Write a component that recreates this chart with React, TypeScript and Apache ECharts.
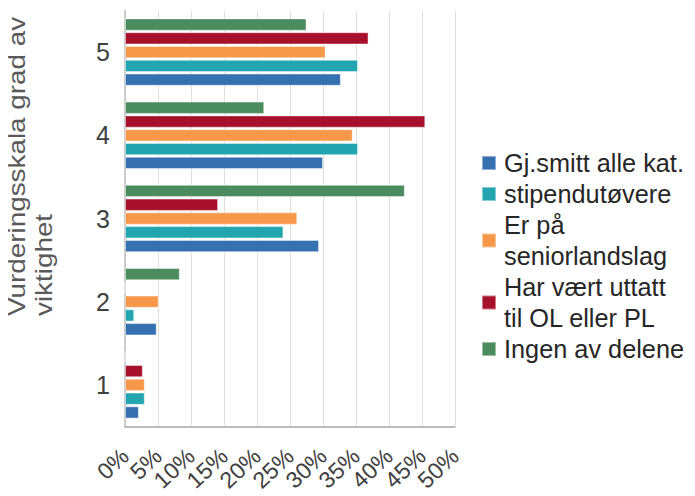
import React, { useEffect, useRef } from "react";
import * as echarts from "echarts";

const categories = ["1", "2", "3", "4", "5"];
const seriesNames = [
  "Gj.smitt alle kat.",
  "stipendutøvere",
  "Er på seniorlandslag",
  "Har vært uttatt til OL eller PL",
  "Ingen av delene",
];
const legendLabels = [
  "Gj.smitt alle kat.",
  "stipendutøvere",
  "Er på\nseniorlandslag",
  "Har vært uttatt\ntil OL eller PL",
  "Ingen av delene",
];
const gjSnitt = [2.1, 4.8, 29.4, 30.0, 32.7];
const stipend = [3.0, 1.4, 24.0, 35.3, 35.3];
const senior = [3.0, 5.1, 26.1, 34.5, 30.4];
const olPl = [2.7, 0, 14.1, 45.5, 36.9];
const ingen = [0, 8.3, 42.4, 21.1, 27.5];
const seriesColors = ["#3670B0", "#23A5B0", "#F7974A", "#A6102A", "#4A8C5E"];
const xMin = 0;
const xMax = 50;
const xStep = 5;
const yAxisTitle = "Vurderingsskala grad av\nviktighet";

const FONT = "'Liberation Sans', Arial, sans-serif";

export default function App() {
  const ref = useRef<HTMLDivElement>(null);
  useEffect(() => {
    if (!ref.current) return;
    const chart = echarts.init(ref.current, undefined, { renderer: "svg" });
    const values = [gjSnitt, stipend, senior, olPl, ingen];
    // ECharts stacks horizontal bars top-down in series order; reverse so the
    // first legend entry sits at the bottom of each group, as in the original.
    const order = [4, 3, 2, 1, 0];
    const labelBase = {
      rotate: 43,
      margin: 26,
      fontSize: 23,
      color: "#404040",
      fontFamily: FONT,
      showMinLabel: true,
      showMaxLabel: true,
    };
    // Two label layers on the same scale (even and odd multiples of the step)
    // so ECharts' min/max overlap check does not drop any tick label.
    const isEven = (v: number) => Math.round(v / xStep) % 2 === 0;
    chart.setOption({
      animation: false,
      textStyle: { fontFamily: FONT },
      grid: { left: 125, right: 240, top: 10.5, bottom: 69.5, containLabel: false },
      legend: {
        orient: "vertical",
        left: 476,
        top: 142.5,
        itemWidth: 14,
        itemHeight: 14,
        itemGap: 0,
        icon: "rect",
        data: seriesNames,
        formatter: (name: string) => legendLabels[seriesNames.indexOf(name)],
        textStyle: {
          fontFamily: FONT,
          fontSize: 25.3,
          color: "#262626",
          lineHeight: 31,
          padding: [0, 0, 0, 3],
        },
      },
      xAxis: [
        {
          type: "value",
          position: "bottom",
          min: xMin,
          max: xMax,
          interval: xStep,
          axisLine: { show: true, lineStyle: { color: "#a6a6a6", width: 1.5 } },
          axisTick: { show: false },
          splitLine: { show: true, lineStyle: { color: "#e0e0e0", width: 1 } },
          axisLabel: {
            ...labelBase,
            formatter: (v: number) => (isEven(v) ? `${v}%` : ""),
          },
        },
        {
          type: "value",
          position: "bottom",
          offset: 0,
          min: xMin,
          max: xMax,
          interval: xStep,
          axisLine: { show: false },
          axisTick: { show: false },
          splitLine: { show: false },
          axisLabel: {
            ...labelBase,
            formatter: (v: number) => (isEven(v) ? "" : `${v}%`),
          },
        },
      ],
      yAxis: {
        type: "category",
        data: categories,
        axisLine: { show: true, lineStyle: { color: "#bfbfbf", width: 1.5 } },
        axisTick: { show: false },
        axisLabel: { fontSize: 25, color: "#404040", margin: 15, fontFamily: FONT },
      },
      graphic: [
        {
          type: "text",
          x: 3,
          y: 316,
          rotation: Math.PI / 2,
          scaleX: 1.16,
          style: {
            text: yAxisTitle,
            fontSize: 24,
            lineHeight: 27,
            fontFamily: FONT,
            fill: "#595959",
            align: "left",
            verticalAlign: "top",
          },
        },
      ],
      series: order.map((i) => ({
        name: seriesNames[i],
        type: "bar",
        xAxisIndex: 0,
        data: values[i],
        barCategoryGap: "19%",
        barGap: "12%",
        itemStyle: {
          color: seriesColors[i],
          borderColor: "rgba(255,255,255,0.45)",
          borderWidth: 1,
        },
      })),
    });
    return () => chart.dispose();
  }, []);
  return <div ref={ref} style={{ width: 695, height: 496, marginLeft: -8, marginTop: -8 }} />;
}
